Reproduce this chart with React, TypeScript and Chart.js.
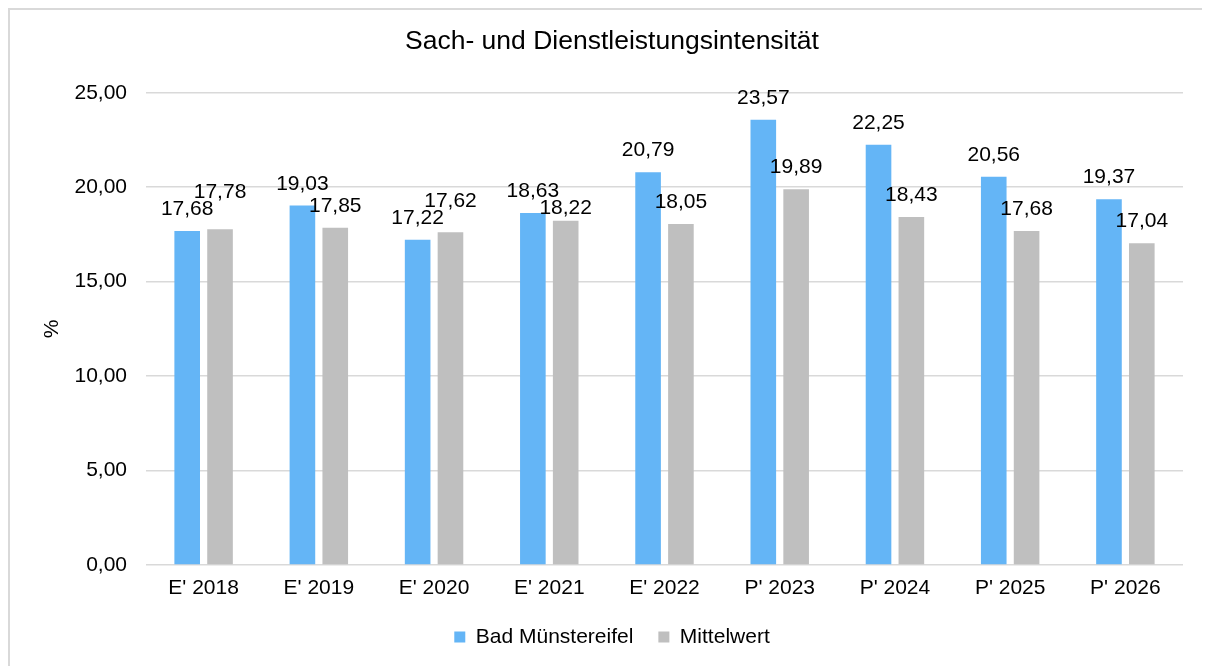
import React, { useEffect, useRef } from 'react';
import { Chart, registerables } from 'chart.js';

Chart.register(...registerables);

const categories = ["E' 2018", "E' 2019", "E' 2020", "E' 2021", "E' 2022", "P' 2023", "P' 2024", "P' 2025", "P' 2026"];
const badMuenstereifel = [17.68, 19.03, 17.22, 18.63, 20.79, 23.57, 22.25, 20.56, 19.37];
const mittelwert = [17.78, 17.85, 17.62, 18.22, 18.05, 19.89, 18.43, 17.68, 17.04];
const seriesNames = ['Bad Münstereifel', 'Mittelwert'];
const chartTitle = 'Sach- und Dienstleistungsintensität';
const yAxisTitle = '%';
const yMin = 0;
const yMax = 25;
const yStep = 5;

const FONT = '"Liberation Sans", Arial, Helvetica, sans-serif';
const fmt = (v: number) => Number(v).toFixed(2).replace('.', ',');

const labelPlugin = {
  id: 'barValueLabels',
  afterDatasetsDraw(chart: any) {
    const ctx = chart.ctx;
    const m0 = chart.getDatasetMeta(0);
    const m1 = chart.getDatasetMeta(1);
    const d0 = chart.data.datasets[0].data as number[];
    const d1 = chart.data.datasets[1].data as number[];
    const gap = 16;
    const H = 17;
    ctx.save();
    ctx.font = `21px ${FONT}`;
    ctx.fillStyle = '#000';
    ctx.textAlign = 'center';
    ctx.textBaseline = 'alphabetic';
    for (let i = 0; i < d0.length; i++) {
      const b = m0.data[i];
      const g = m1.data[i];
      const yb = b.y - gap;
      let yg = g.y - gap;
      if (Math.abs(yb - yg) < H) {
        yg = yg <= yb ? yb - H : yb + H;
      }
      ctx.fillText(fmt(d0[i]), b.x, yb);
      ctx.fillText(fmt(d1[i]), g.x, yg);
    }
    ctx.restore();
  },
};

export default function App() {
  const canvasRef = useRef<HTMLCanvasElement | null>(null);

  useEffect(() => {
    if (!canvasRef.current) return;
    Chart.defaults.font.family = FONT;
    const chart = new Chart(canvasRef.current, {
      type: 'bar',
      data: {
        labels: categories,
        datasets: [
          {
            label: seriesNames[0],
            data: badMuenstereifel,
            backgroundColor: '#64B5F6',
            borderWidth: 0,
            categoryPercentage: 0.57,
            barPercentage: 0.78,
          },
          {
            label: seriesNames[1],
            data: mittelwert,
            backgroundColor: '#BFBFBF',
            borderWidth: 0,
            categoryPercentage: 0.57,
            barPercentage: 0.78,
          },
        ],
      },
      options: {
        animation: false,
        responsive: true,
        maintainAspectRatio: false,
        layout: { padding: { left: 0, right: 0, top: 0, bottom: 18.5 } },
        plugins: {
          title: {
            display: true,
            text: chartTitle,
            color: '#000',
            font: { size: 26.5, weight: 'normal', family: FONT },
            padding: { top: 16, bottom: 35 },
          },
          legend: {
            position: 'bottom',
            labels: {
              boxWidth: 11,
              boxHeight: 11,
              padding: 25,
              color: '#000',
              font: { size: 21, family: FONT },
            },
          },
          tooltip: { enabled: false },
        },
        scales: {
          x: {
            grid: { display: false, drawTicks: false },
            border: { display: false },
            ticks: {
              color: '#000',
              padding: 11,
              maxRotation: 0,
              autoSkip: false,
              font: { size: 21, family: FONT },
            },
            afterFit: (s: any) => {
              s.height = 36.5;
            },
          },
          y: {
            min: yMin,
            max: yMax,
            ticks: {
              stepSize: yStep,
              padding: 19,
              color: '#000',
              font: { size: 21, family: FONT },
              callback: (v: any) => fmt(Number(v)),
            },
            grid: { color: '#D9D9D9', lineWidth: 1.5, drawTicks: false },
            border: { display: false },
            title: {
              display: true,
              text: yAxisTitle,
              color: '#000',
              font: { size: 21, family: FONT },
              padding: { top: 30, bottom: 0 },
            },
            afterFit: (s: any) => {
              s.width = 136;
            },
          },
          yRight: {
            type: 'linear',
            position: 'right',
            display: true,
            min: yMin,
            max: yMax,
            grid: { display: false, drawTicks: false },
            border: { display: false },
            ticks: { display: false },
            afterFit: (s: any) => {
              s.width = 31;
            },
          },
        },
      },
      plugins: [labelPlugin],
    } as any);
    return () => chart.destroy();
  }, []);

  return (
    <div style={{ width: 1202, height: 658, overflow: 'hidden' }}>
      <div
        style={{
          width: 1208,
          height: 670,
          border: '2px solid #D9D9D9',
          boxSizing: 'border-box',
          background: '#fff',
        }}
      >
        <div style={{ position: 'relative', width: 1204, height: 666 }}>
          <canvas ref={canvasRef} />
        </div>
      </div>
    </div>
  );
}
